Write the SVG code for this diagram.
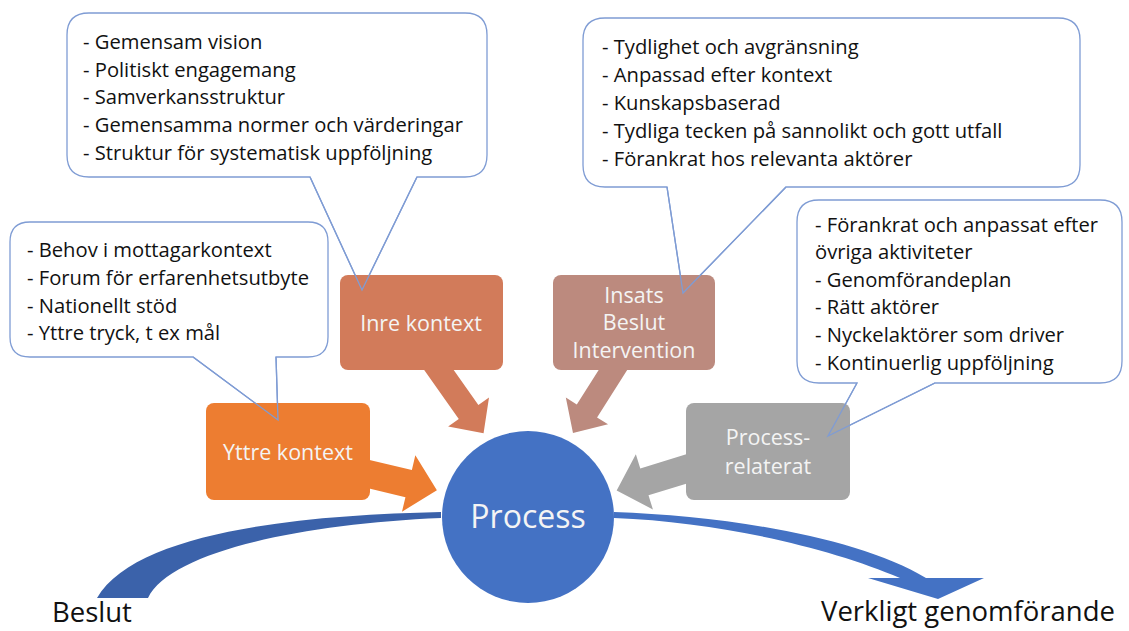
<svg xmlns="http://www.w3.org/2000/svg" width="1129" height="631" viewBox="0 0 1129 631">
<style>
.callout{fill:#fff;stroke:#7F9CD4;stroke-width:1.3}
.tail{fill:none;stroke:#7F9CD4;stroke-width:1.3}
.ct{font-family:"Open Sans","Liberation Sans",sans-serif;font-size:20.2px;fill:#111}
.lbl{font-family:"Open Sans","Liberation Sans",sans-serif;font-size:21.5px;fill:#F4F4F4;text-anchor:middle}
.big{font-family:"Open Sans","Liberation Sans",sans-serif;font-size:27.5px;fill:#111}
</style>
<rect width="1129" height="631" fill="#fff"/>

<g id="callout-inre">
<path class="callout" d="M89,13 H465 Q487,13 487,35 V155 Q487,177 465,177 H417 L362,290 L310,177 H89 Q67,177 67,155 V35 Q67,13 89,13 Z"/>
<text class="ct" x="83" y="49">- Gemensam vision</text>
<text class="ct" x="83" y="77">- Politiskt engagemang</text>
<text class="ct" x="83" y="104">- Samverkansstruktur</text>
<text class="ct" x="83" y="132">- Gemensamma normer och värderingar</text>
<text class="ct" x="83" y="160">- Struktur för systematisk uppföljning</text>
</g>

<g id="callout-yttre">
<path class="callout" d="M30,222 H308 Q328,222 328,242 V337 Q328,357 308,357 H276 L278,420 L193,357 H30 Q10,357 10,337 V242 Q10,222 30,222 Z"/>
<text class="ct" x="27" y="257">- Behov i mottagarkontext</text>
<text class="ct" x="27" y="285">- Forum för erfarenhetsutbyte</text>
<text class="ct" x="27" y="313">- Nationellt stöd</text>
<text class="ct" x="27" y="340">- Yttre tryck, t ex mål</text>
</g>

<g id="callout-insats">
<path class="callout" d="M605,18 H1058 Q1080,18 1080,40 V165 Q1080,187 1058,187 H786 L683,293 L667,187 H605 Q583,187 583,165 V40 Q583,18 605,18 Z"/>
<text class="ct" x="602" y="54">- Tydlighet och avgränsning</text>
<text class="ct" x="602" y="82">- Anpassad efter kontext</text>
<text class="ct" x="602" y="110">- Kunskapsbaserad</text>
<text class="ct" x="602" y="138">- Tydliga tecken på sannolikt och gott utfall</text>
<text class="ct" x="602" y="166">- Förankrat hos relevanta aktörer</text>
</g>

<g id="callout-processrelaterat">
<path class="callout" d="M819,200 H1100 Q1122,200 1122,222 V361 Q1122,383 1100,383 H935 L828,436 L857,383 H819 Q797,383 797,361 V222 Q797,200 819,200 Z"/>
<text class="ct" x="815" y="232">- Förankrat och anpassat efter</text>
<text class="ct" x="815" y="259">övriga aktiviteter</text>
<text class="ct" x="815" y="287">- Genomförandeplan</text>
<text class="ct" x="815" y="314">- Rätt aktörer</text>
<text class="ct" x="815" y="342">- Nyckelaktörer som driver</text>
<text class="ct" x="815" y="370">- Kontinuerlig uppföljning</text>
</g>

<g id="connectors">
<path id="band-beslut" fill="#3B62AA" d="M441,512 C300,515 135,532 97,598 L148,598 C170,552 300,524 441,518 Z"/>
<path id="band-verkligt" fill="#4472C4" d="M614,512 C730,516 860,538 926,578 L984,578 L938,599 L868,578 L900,578 C830,548 720,522 614,518 Z"/>
<polygon fill="#ED7D31" points="0,-14 50,-14 50,-29 79,0 50,29 50,14 0,14" transform="translate(360,472) rotate(13.3)"/>
<polygon fill="#D27B5A" points="0,-12 60,-12 60,-25 86,0 60,25 60,12 0,12" transform="translate(434,363) rotate(54.8)"/>
<polygon fill="#BC8A7E" points="0,-12 58,-12 58,-25 84,0 58,25 58,12 0,12" transform="translate(618,362) rotate(122.4)"/>
<polygon fill="#A5A5A5" points="0,-14 54,-14 54,-29 83,0 54,29 54,14 0,14" transform="translate(696,466) rotate(162.9)"/>
</g>

<g id="node-yttre">
<rect x="206" y="403" width="164" height="97" rx="8" fill="#ED7D31"/>
<text class="lbl" x="288" y="460">Yttre kontext</text>
</g>
<g id="node-inre">
<rect x="340" y="275" width="163" height="95" rx="8" fill="#D27B5A"/>
<text class="lbl" x="421" y="331">Inre kontext</text>
</g>
<g id="node-insats">
<rect x="553" y="275" width="162" height="95" rx="8" fill="#BC8A7E"/>
<text class="lbl" x="634" y="303">Insats</text>
<text class="lbl" x="634" y="330">Beslut</text>
<text class="lbl" x="634" y="358">Intervention</text>
</g>
<g id="node-processrelaterat">
<rect x="686" y="403" width="164" height="97" rx="8" fill="#A5A5A5"/>
<text class="lbl" x="768" y="445">Process-</text>
<text class="lbl" x="768" y="474">relaterat</text>
</g>
<g id="node-process">
<circle cx="528" cy="517" r="86" fill="#4472C4"/>
<text x="528" y="528" text-anchor="middle" font-family="Open Sans, Liberation Sans, sans-serif" font-size="32" fill="#F4F4F4">Process</text>
</g>

<g id="callout-tails">
<polyline class="tail" points="310,177 362,290 417,177"/>
<polyline class="tail" points="193,357 278,420 276,357"/>
<polyline class="tail" points="667,187 683,293 786,187"/>
<polyline class="tail" points="857,383 828,436 935,383"/>
</g>

<g id="label-beslut"><text class="big" x="52" y="622">Beslut</text></g>
<g id="label-verkligt"><text class="big" x="821" y="621">Verkligt genomförande</text></g>
</svg>
